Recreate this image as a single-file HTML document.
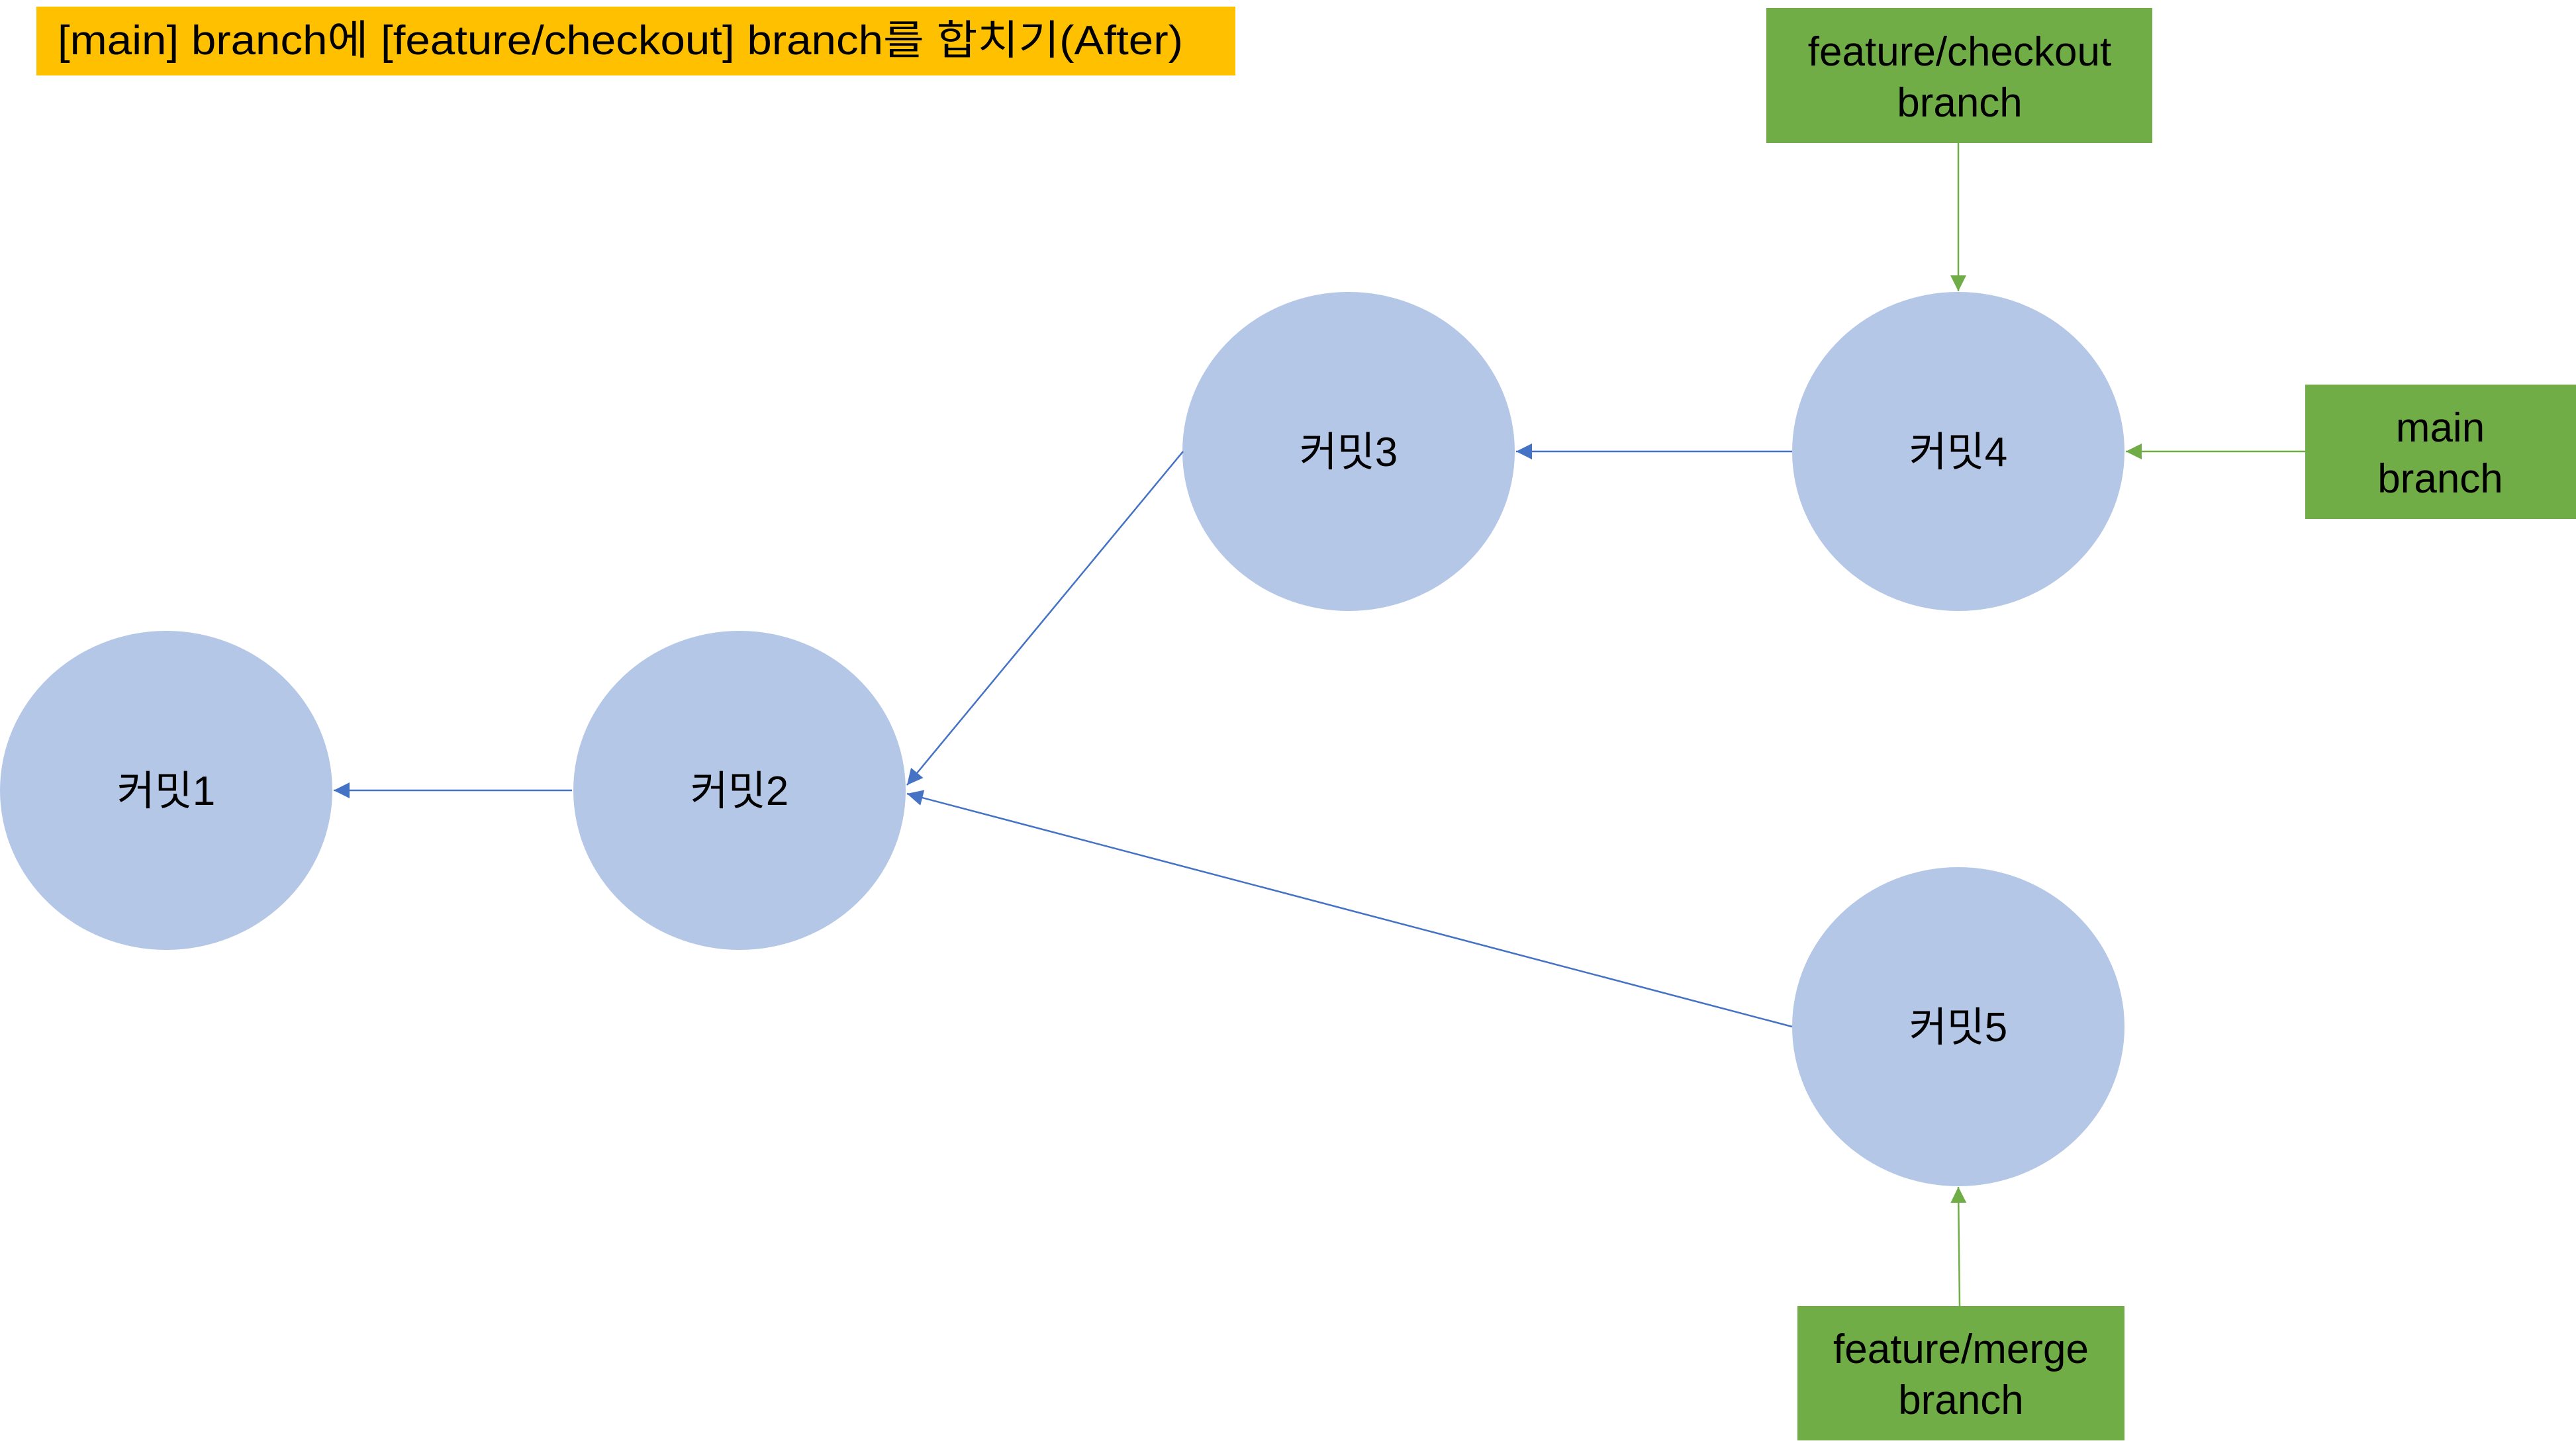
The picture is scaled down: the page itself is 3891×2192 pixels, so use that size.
<!DOCTYPE html>
<html><head><meta charset="utf-8"><style>
html,body{margin:0;padding:0;background:#fff;}
svg{display:block;}
text{font-family:"Liberation Sans","Noto Sans CJK KR",sans-serif;fill:#000;}
</style></head><body>
<svg width="3891" height="2192" viewBox="0 0 3891 2192" xmlns="http://www.w3.org/2000/svg">
<defs>
<marker id="b" viewBox="0 0 10 10" refX="10" refY="5" markerWidth="28" markerHeight="24" markerUnits="userSpaceOnUse" orient="auto"><path d="M0,0 L10,5 L0,10 z" fill="#4472C4"/></marker>
<marker id="g" viewBox="0 0 10 10" refX="10" refY="5" markerWidth="28" markerHeight="24" markerUnits="userSpaceOnUse" orient="auto"><path d="M0,0 L10,5 L0,10 z" fill="#70AD47"/></marker>
</defs>
<rect x="55" y="10" width="1811" height="104" fill="#FFC000"/>
<text x="87" y="82" font-size="62" textLength="1700" lengthAdjust="spacingAndGlyphs">[main] branch에 [feature/checkout] branch를 합치기(After)</text>

<g fill="#B4C7E7">
<ellipse cx="251" cy="1194" rx="251" ry="241"/>
<ellipse cx="1117" cy="1194" rx="251" ry="241"/>
<ellipse cx="2037" cy="682" rx="251" ry="241"/>
<ellipse cx="2958" cy="682" rx="251" ry="241"/>
<ellipse cx="2958" cy="1551" rx="251" ry="241"/>
</g>
<g font-size="62" text-anchor="middle">
<text x="251" y="1216">커밋1</text>
<text x="1117" y="1216">커밋2</text>
<text x="2037" y="704">커밋3</text>
<text x="2958" y="704">커밋4</text>
<text x="2958" y="1573">커밋5</text>
</g>

<g fill="#70AD47">
<rect x="2668" y="12" width="583" height="204"/>
<rect x="3482" y="581" width="409" height="203"/>
<rect x="2715" y="1973" width="494" height="203"/>
</g>
<g font-size="62" text-anchor="middle">
<text x="2960" y="99">feature/checkout</text>
<text x="2960" y="176">branch</text>
<text x="3686" y="667">main</text>
<text x="3686" y="744">branch</text>
<text x="2962" y="2059">feature/merge</text>
<text x="2962" y="2136">branch</text>
</g>

<g stroke="#4472C4" stroke-width="2.5" fill="none">
<line x1="864" y1="1194" x2="504" y2="1194" marker-end="url(#b)"/>
<line x1="1787" y1="682" x2="1370" y2="1186" marker-end="url(#b)"/>
<line x1="2707" y1="1551" x2="1370" y2="1199" marker-end="url(#b)"/>
<line x1="2707" y1="682" x2="2290" y2="682" marker-end="url(#b)"/>
</g>
<g stroke="#70AD47" stroke-width="2.5" fill="none">
<line x1="2958" y1="216" x2="2958" y2="440" marker-end="url(#g)"/>
<line x1="3482" y1="682" x2="3211" y2="682" marker-end="url(#g)"/>
<line x1="2960" y1="1973" x2="2958" y2="1793" marker-end="url(#g)"/>
</g>
</svg>
</body></html>
